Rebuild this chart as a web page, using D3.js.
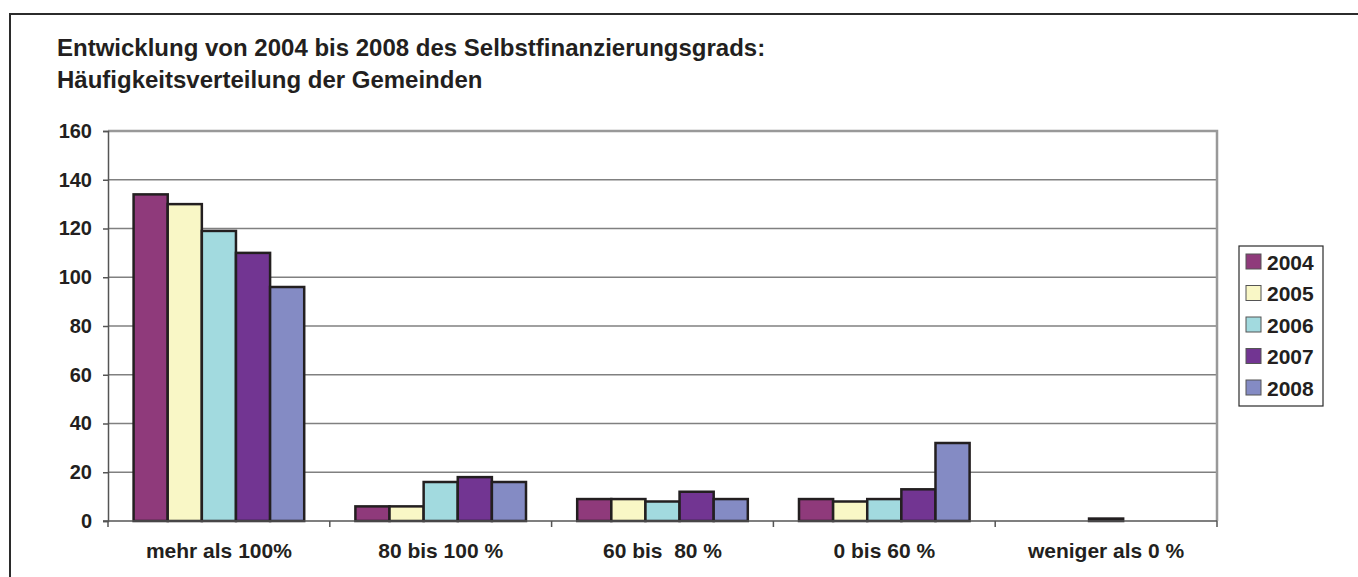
<!DOCTYPE html>
<html>
<head>
<meta charset="utf-8">
<script src="https://cdn.jsdelivr.net/npm/d3@7"></script>
<style>
  html, body { margin: 0; padding: 0; background: #fff; }
  svg text { font-family: "Liberation Sans", Arial, sans-serif; font-weight: bold; fill: #231f20; white-space: pre; }
</style>
</head>
<body>
<svg id="chart" width="1358" height="577"></svg>
<script>
const categories = ["mehr als 100%", "80 bis 100 %", "60 bis  80 %", "0 bis 60 %", "weniger als 0 %"];
const years = ["2004", "2005", "2006", "2007", "2008"];
const v2004 = [134, 6, 9, 9, 0];
const v2005 = [130, 6, 9, 8, 0];
const v2006 = [119, 16, 8, 9, 1];
const v2007 = [110, 18, 12, 13, 0];
const v2008 = [96, 16, 9, 32, 0];
const yTicks = [0, 20, 40, 60, 80, 100, 120, 140, 160];
const titleLines = ["Entwicklung von 2004 bis 2008 des Selbstfinanzierungsgrads:", "Häufigkeitsverteilung der Gemeinden"];
const colors = ["#8f3a7b", "#f9f7c6", "#a2dadf", "#723592", "#848bc4"];

const series = [v2004, v2005, v2006, v2007, v2008];

const svg = d3.select("#chart");

// outer frame
svg.append("rect").attr("x", 10).attr("y", 14).attr("width", 1400).attr("height", 700)
  .attr("fill", "none").attr("stroke", "#2b2b2b").attr("stroke-width", 2);

// title
svg.append("g").selectAll("text").data(titleLines).join("text")
  .attr("x", 57).attr("y", (d, i) => 56 + i * 32)
  .style("font-size", "24px").text(d => d);

const pLeft = 108, pRight = 1217, pTop = 131, pBottom = 521;

const x0 = d3.scaleBand().domain(categories).range([pLeft, pRight]).paddingInner(0).paddingOuter(0);
const x1 = d3.scaleBand().domain(years).range([0, x0.bandwidth()]).paddingOuter(0.75).paddingInner(0);
const y = d3.scaleLinear().domain([0, 160]).range([pBottom, pTop]);

// gridlines
svg.append("g").selectAll("line").data(yTicks.filter(t => t > 0)).join("line")
  .attr("x1", pLeft).attr("x2", pRight)
  .attr("y1", d => y(d)).attr("y2", d => y(d))
  .attr("stroke", "#808080").attr("stroke-width", 1.5);

// plot area border (right side + top)
svg.append("path")
  .attr("d", `M${pLeft},${pTop}H${pRight}V${pBottom}`)
  .attr("fill", "none").attr("stroke", "#999").attr("stroke-width", 2.5);

// bars
const barData = [];
categories.forEach((c, ci) => {
  years.forEach((yr, si) => {
    barData.push({ cat: c, year: yr, value: series[si][ci], color: colors[si] });
  });
});
svg.append("g").selectAll("rect").data(barData.filter(d => d.value > 0)).join("rect")
  .attr("x", d => x0(d.cat) + x1(d.year))
  .attr("width", x1.bandwidth())
  .attr("y", d => y(d.value))
  .attr("height", d => y(0) - y(d.value))
  .attr("fill", d => d.color)
  .attr("stroke", "#231f20").attr("stroke-width", 2.5);

// y axis
const yAxis = d3.axisLeft(y).tickValues(yTicks).tickSize(5).tickPadding(11);
const gy = svg.append("g").attr("transform", `translate(${pLeft},0)`).call(yAxis);
gy.select(".domain").attr("stroke", "#555").attr("stroke-width", 1.5);
gy.selectAll(".tick line").attr("stroke", "#555").attr("stroke-width", 1.5);
gy.selectAll(".tick text").style("font-size", "20px").style("font-family", "Liberation Sans, Arial, sans-serif").attr("fill", "#231f20");

// x axis
const gx = svg.append("g").attr("transform", `translate(0,${pBottom})`);
gx.append("line").attr("x1", pLeft - 5).attr("x2", pRight).attr("y1", 0).attr("y2", 0)
  .attr("stroke", "#555").attr("stroke-width", 1.5);
const boundaries = categories.map(c => x0(c)).concat([pRight]);
gx.selectAll("line.tk").data(boundaries).join("line").attr("class", "tk")
  .attr("x1", d => d).attr("x2", d => d).attr("y1", 0).attr("y2", 6)
  .attr("stroke", "#555").attr("stroke-width", 1.5);
gx.selectAll("text").data(categories).join("text")
  .attr("x", d => x0(d) + x0.bandwidth() / 2).attr("y", 37)
  .attr("text-anchor", "middle").style("font-size", "21px").text(d => d);

// legend
const lg = svg.append("g");
lg.append("rect").attr("x", 1239).attr("y", 246).attr("width", 84).attr("height", 160)
  .attr("fill", "#fff").attr("stroke", "#2b2b2b").attr("stroke-width", 1.2);
const items = lg.selectAll("g.item").data(years).join("g").attr("class", "item")
  .attr("transform", (d, i) => `translate(1246,${254 + i * 31.5})`);
items.append("rect").attr("width", 15).attr("height", 15)
  .attr("fill", (d, i) => colors[i]).attr("stroke", "#555").attr("stroke-width", 1);
items.append("text").attr("x", 21).attr("y", 15.5).style("font-size", "21px").text(d => d);
</script>
</body>
</html>
